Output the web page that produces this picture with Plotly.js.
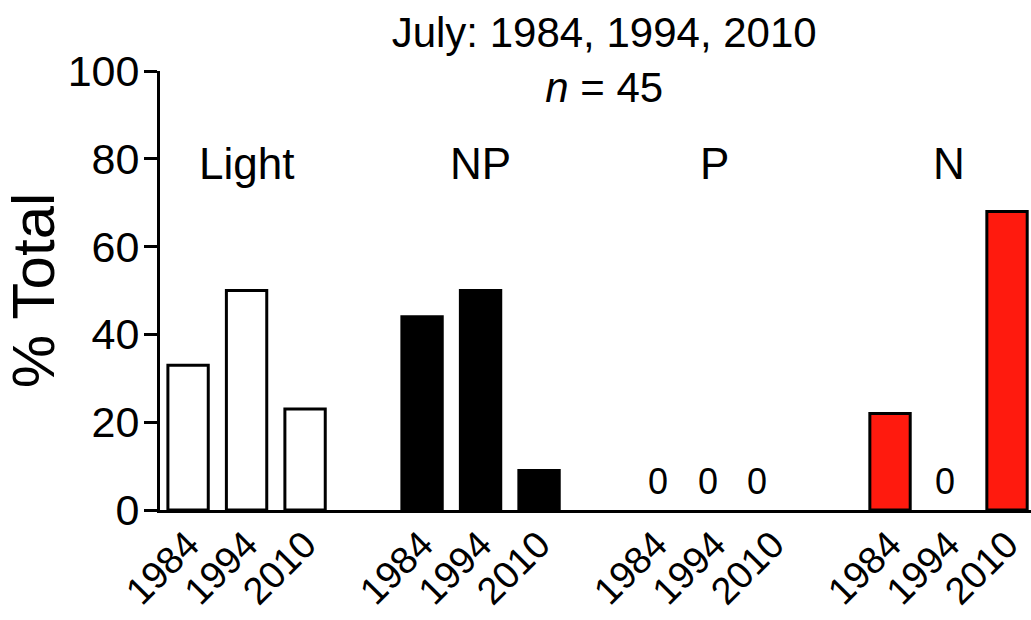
<!DOCTYPE html>
<html>
<head>
<meta charset="utf-8">
<script src="https://cdn.plot.ly/plotly-3.0.1.min.js"></script>
<style>
  html, body { margin: 0; padding: 0; background: #fff; }
  #chart { width: 1031px; height: 620px; }
</style>
</head>
<body>
<div id="chart"></div>
<script>
// Share of samples (% of total) per limitation category, July surveys
const years = ['1984', '1994', '2010'];
const groups = ['Light', 'NP', 'P', 'N'];
const lightValues = [33, 50, 23];
const npValues = [44, 50, 9];
const pValues = [0, 0, 0];
const nValues = [22, 0, 68];
const yTicks = [0, 20, 40, 60, 80, 100];
const titleText = 'July: 1984, 1994, 2010<br><i>n</i> = 45';
const yTitle = '% Total';

const seriesValues = [lightValues, npValues, pValues, nValues];
const fills = ['#ffffff', '#000000', '#ffffff', '#ff1a0e'];
const FONT = 'Liberation Sans, Arial, sans-serif';

// each group takes three slots plus one empty slot as a gap
const slot = (g, j) => g * (years.length + 1) + j;

const traces = groups.map((name, g) => ({
  type: 'bar',
  name: name,
  x: years.map((_, j) => slot(g, j)),
  y: seriesValues[g],
  width: 0.69,
  marker: {
    color: fills[g],
    line: { color: '#000', width: seriesValues[g].map(v => (v === 0 ? 0 : 3)) }
  },
  showlegend: false,
  hoverinfo: 'x+y'
}));

const tickvals = [];
const ticktext = [];
groups.forEach((_, g) => years.forEach((yr, j) => { tickvals.push(slot(g, j)); ticktext.push(yr); }));

const annotations = [];
// group names above each cluster
groups.forEach((name, g) => {
  annotations.push({
    x: slot(g, 1), y: 79, xref: 'x', yref: 'y',
    text: name, showarrow: false,
    font: { family: FONT, size: 44, color: '#000' },
    xanchor: 'center', yanchor: 'middle'
  });
});
// value labels for empty bars, nudged slightly left as in the layout of the figure
const zeroLabelShift = [[0, 0, 0], [0, 0, 0], [2, -7, -16], [0, -4, 0]];
groups.forEach((_, g) => seriesValues[g].forEach((v, j) => {
  if (v === 0) {
    annotations.push({
      x: slot(g, j), y: v, xref: 'x', yref: 'y',
      text: String(v), showarrow: false,
      font: { family: FONT, size: 36, color: '#000' },
      xanchor: 'center', yanchor: 'bottom', yshift: 6,
      xshift: zeroLabelShift[g][j]
    });
  }
}));

const layout = {
  width: 1031, height: 620,
  margin: { l: 160, r: 0, t: 71, b: 110 },
  paper_bgcolor: '#fff', plot_bgcolor: '#fff',
  font: { family: FONT, color: '#000' },
  title: {
    text: titleText,
    font: { family: FONT, size: 42, color: '#000' },
    x: 0.586, xref: 'container', xanchor: 'center',
    y: 0.924, yref: 'container', yanchor: 'top'
  },
  bargap: 0,
  xaxis: {
    range: [-0.48, 14.41],
    tickvals: tickvals, ticktext: ticktext,
    tickangle: -45,
    tickfont: { family: FONT, size: 38, color: '#000' },
    ticklabelstandoff: -6,
    showline: true, linecolor: '#000', linewidth: 3,
    ticks: '', showgrid: false, zeroline: false,
    fixedrange: true
  },
  yaxis: {
    range: [0, 100],
    tickvals: yTicks,
    ticks: 'outside', ticklen: 13, tickwidth: 3, tickcolor: '#000',
    tickfont: { family: FONT, size: 43, color: '#000' },
    ticklabelstandoff: -4,
    showline: true, linecolor: '#000', linewidth: 3,
    showgrid: false, zeroline: false,
    title: { text: yTitle, font: { family: FONT, size: 60, color: '#000' }, standoff: 16 },
    fixedrange: true
  },
  annotations: annotations
};

Plotly.newPlot('chart', traces, layout, { displayModeBar: false, staticPlot: true });
</script>
</body>
</html>
